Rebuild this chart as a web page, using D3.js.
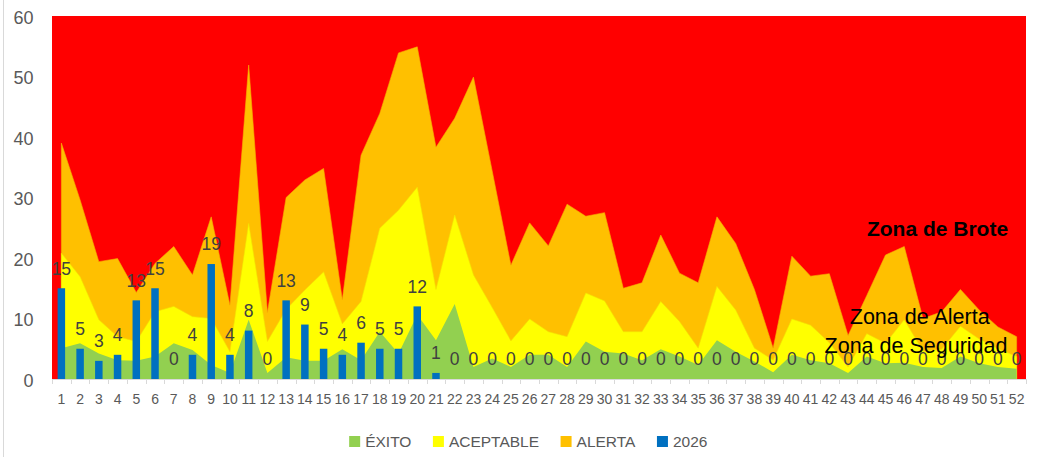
<!DOCTYPE html>
<html>
<head>
<meta charset="utf-8">
<script src="https://cdn.jsdelivr.net/npm/d3@7"></script>
<style>
  html, body { margin: 0; padding: 0; background: #ffffff; }
  svg { display: block; }
  text { font-family: "Liberation Sans", Arial, sans-serif; }
</style>
</head>
<body>
<svg id="chart" width="1046" height="457"></svg>
<script>
// ---- DATA ----
const weeks = ["1","2","3","4","5","6","7","8","9","10","11","12","13","14","15","16","17","18","19","20","21","22","23","24","25","26","27","28","29","30","31","32","33","34","35","36","37","38","39","40","41","42","43","44","45","46","47","48","49","50","51","52"];

// upper boundary of each zone
const exito = [5.1,5.9,4.2,3.1,3.0,3.7,5.9,4.8,2.3,1.0,9.8,1.0,3.6,3.0,3.0,4.9,3.1,7.8,4.2,10.6,6.4,12.4,2.0,3.4,2.0,4.0,4.0,2.0,6.2,4.5,4.2,3.1,4.9,3.7,2.3,6.4,4.5,2.9,1.1,4.0,3.1,2.6,1.0,3.7,2.6,2.7,2.0,1.8,3.7,2.6,2.0,1.7];
const aceptable = [20.8,16.9,9.8,7.0,6.2,11.1,12.0,10.3,10.0,4.5,25.7,6.2,11.5,14.7,17.7,9.1,12.8,24.9,27.9,31.7,14.8,27.1,17.2,11.8,6.3,9.9,7.8,7.0,14.2,12.9,7.8,7.8,12.8,9.5,5.1,15.3,11.4,5.1,3.1,9.9,8.9,6.0,2.0,7.5,5.9,9.8,4.6,4.9,8.7,6.6,5.0,3.7];
const alerta = [39.0,29.6,19.4,19.9,14.3,19.1,21.9,17.2,26.8,12.2,51.9,11.0,30.0,32.9,34.8,13.1,37.0,43.9,53.9,54.9,38.3,43.1,49.9,34.4,18.8,25.8,22.0,28.9,26.9,27.5,15.0,15.9,23.8,17.5,15.9,26.8,22.4,14.8,5.1,20.3,17.0,17.4,7.2,13.8,20.5,21.9,10.0,11.1,14.8,11.4,8.6,7.0];
const casos2026 = [15,5,3,4,13,15,0,4,19,4,8,0,13,9,5,4,6,5,5,12,1,0,0,0,0,0,0,0,0,0,0,0,0,0,0,0,0,0,0,0,0,0,0,0,0,0,0,0,0,0,0,0];

const yTicks = [0,10,20,30,40,50,60];
const legendItems = ["ÉXITO","ACEPTABLE","ALERTA","2026"];
const legendColors = ["#92D050","#FFFF00","#FFC000","#0070C0"];
const zoneLabels = ["Zona de Brote","Zona de Alerta","Zona de Seguridad"];

// ---- LAYOUT ----
const svg = d3.select("#chart");
const plot = { left: 52, right: 1026, top: 16, bottom: 379 };

const x = d3.scaleBand().domain(weeks).range([plot.left, plot.right]).padding(0);
const bw = x.bandwidth();
const cx = w => x(w) + bw / 2;
const y = d3.scaleLinear().domain([0, 60]).range([plot.bottom, plot.top]);

// chart border (left edge visible)
svg.append("line").attr("x1", 3.5).attr("x2", 3.5).attr("y1", 0).attr("y2", 457)
  .attr("stroke", "#d9d9d9").attr("stroke-width", 1);

// Zona de brote: plot background
svg.append("rect").attr("x", plot.left).attr("y", y(60))
  .attr("width", plot.right - plot.left).attr("height", y(0) - y(60))
  .attr("fill", "#FF0000");

const areaOf = arr => d3.area()
  .x((d, i) => cx(weeks[i]))
  .y0(y(0))
  .y1(d => y(d))(arr);

svg.append("path").attr("d", areaOf(alerta)).attr("fill", "#FFC000")
  .attr("stroke", "#F5B000").attr("stroke-width", 0.6);
svg.append("path").attr("d", areaOf(aceptable)).attr("fill", "#FFFF00")
  .attr("stroke", "#F2E600").attr("stroke-width", 0.6);
svg.append("path").attr("d", areaOf(exito)).attr("fill", "#92D050");

// bars 2026
const barW = bw * 0.4;
svg.append("g").selectAll("rect").data(casos2026).join("rect")
  .attr("x", (d, i) => cx(weeks[i]) - barW / 2)
  .attr("y", d => y(d))
  .attr("width", barW)
  .attr("height", d => y(0) - y(d))
  .attr("fill", "#0070C0");

// x axis line and ticks
svg.append("line").attr("x1", plot.left).attr("x2", plot.right)
  .attr("y1", plot.bottom + 0.5).attr("y2", plot.bottom + 0.5)
  .attr("stroke", "#d9d9d9").attr("stroke-width", 1);
svg.append("g").selectAll("line").data(weeks.concat(["end"])).join("line")
  .attr("x1", (d, i) => Math.round(plot.left + i * bw) + 0.5)
  .attr("x2", (d, i) => Math.round(plot.left + i * bw) + 0.5)
  .attr("y1", plot.bottom).attr("y2", plot.bottom + 5)
  .attr("stroke", "#d9d9d9").attr("stroke-width", 1);

// x axis labels
const xAxis = svg.append("g").attr("transform", `translate(0,${plot.bottom})`)
  .call(d3.axisBottom(x).tickSize(0).tickPadding(15));
xAxis.select(".domain").remove();
xAxis.selectAll("text").attr("fill", "#595959")
  .style("font-family", '"Liberation Sans Narrow", "Arial Narrow", "Liberation Sans", sans-serif')
  .style("font-size", "14px");

// y axis labels
const yAxis = svg.append("g").attr("transform", `translate(${plot.left},0)`)
  .call(d3.axisLeft(y).tickValues(yTicks).tickSize(0).tickPadding(18.5));
yAxis.select(".domain").remove();
yAxis.selectAll("text").attr("fill", "#595959").attr("dy", "0.4em")
  .style("font-size", "18px");

// data labels
svg.append("g").selectAll("text").data(casos2026).join("text")
  .attr("x", (d, i) => cx(weeks[i]))
  .attr("y", d => y(d) - 20)
  .attr("dy", "0.36em")
  .attr("text-anchor", "middle")
  .attr("fill", "#404040")
  .style("font-size", "17.5px")
  .text(d => d);

// zone labels
const zonePos = [[937.5, 228, "bold"], [919.7, 316, "normal"], [916, 345, "normal"]];
svg.append("g").selectAll("text").data(zoneLabels).join("text")
  .attr("x", (d, i) => zonePos[i][0])
  .attr("y", (d, i) => zonePos[i][1])
  .attr("dy", "0.36em")
  .attr("text-anchor", "middle")
  .attr("fill", "#000000")
  .style("font-weight", (d, i) => zonePos[i][2])
  .style("font-size", (d, i) => i === 0 ? "21px" : "21.5px")
  .text(d => d);

// legend
const legend = svg.append("g");
const legendY = 441.5;
const sq = 11, sqGap = 5, itemGap = 21.5;
const items = legend.selectAll("g").data(legendItems).join("g");
items.append("rect").attr("width", sq).attr("height", sq)
  .attr("y", legendY - sq / 2).attr("fill", (d, i) => legendColors[i]);
items.append("text").attr("x", sq + sqGap).attr("y", legendY).attr("dy", "0.36em")
  .attr("fill", "#595959").style("font-size", "15.5px").text(d => d);
let widths = [];
items.each(function() { widths.push(sq + sqGap + d3.select(this).select("text").node().getComputedTextLength()); });
const total = d3.sum(widths) + itemGap * (widths.length - 1);
let pos = 528.3 - total / 2;
items.attr("transform", (d, i) => { const t = `translate(${pos},0)`; pos += widths[i] + itemGap; return t; });
</script>
</body>
</html>
